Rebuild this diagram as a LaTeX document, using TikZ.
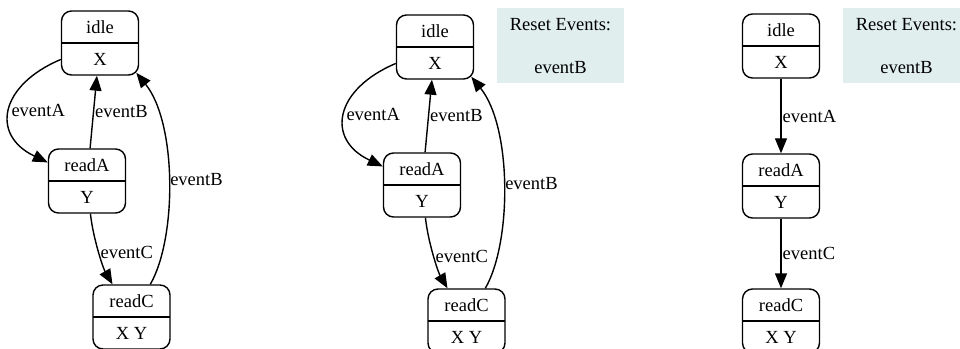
\documentclass[tikz,border=0pt]{standalone}
\usepackage{fontspec}
\setmainfont{Liberation Serif}
\usetikzlibrary{arrows.meta}
\definecolor{resetfill}{RGB}{224,238,238}
\tikzset{
  state/.style={draw, line width=1.4pt, rounded corners=10pt,
    minimum width=77pt, minimum height=64pt, inner sep=0pt,
    path picture={\draw[line width=1.4pt]
      (path picture bounding box.west) -- (path picture bounding box.east);}},
  lbl/.style={font=\fontsize{18.5}{20}\selectfont, inner sep=0pt},
  edge/.style={line width=1.4pt, -{Triangle[length=15pt,width=12pt]}},
  elabel/.style={lbl, anchor=west, inner sep=1pt},
  resetbox/.style={fill=resetfill, minimum width=127pt, minimum height=75pt, inner sep=0pt},
}
% a state: rounded box split in two, name on top, outputs below
\newcommand\statenode[4]{%
  \node[state] (#1) at (#2) {};
  \node[lbl] (#1-top) at ([yshift=16pt]#1.center) {#3};
  \node[lbl] (#1-bot) at ([yshift=-16pt]#1.center) {#4};
}
% a shaded box listing the reset events
\newcommand\resetnode[2]{%
  \node[resetbox] (#1) at (#2) {};
  \node[lbl] (#1-title) at ([yshift=21pt]#1.center) {Reset Events:};
  \node[lbl] (#1-ev) at ([yshift=-22pt]#1.center) {eventB};
}
\begin{document}
\begin{tikzpicture}[x=1pt,y=1pt]
\useasboundingbox (0,0) rectangle (960,348);
\clip (0,0) rectangle (960,348);
\fill[white] (0,0) rectangle (960,348);

% machine with full transitions
\statenode{idle1}{100,305}{idle}{X}
\statenode{readA1}{87,167}{readA}{Y}
\statenode{readC1}{131.5,31}{readC}{X Y}
\draw[edge] (idle1) .. controls (0,263) and (-10,213) .. (readA1)
  node[elabel,pos=0.5] {eventA};
\draw[edge] (readA1) -- (idle1) node[elabel,pos=0.5] {eventB};
\draw[edge] (readA1) .. controls (93,110) and (103,80) .. (readC1)
  node[elabel,pos=0.5] {eventC};
\draw[edge] (readC1) .. controls (177,110) and (177,225) ..
  ([shift={(-2.9pt,2.9pt)}]idle1.south east)
  node[elabel,pos=0.5] {eventB};

% same machine, with reset events listed
\begin{scope}[shift={(335,-4)}]
\statenode{idle2}{100,305}{idle}{X}
\statenode{readA2}{87,167}{readA}{Y}
\statenode{readC2}{131.5,31}{readC}{X Y}
\draw[edge] (idle2) .. controls (0,263) and (-10,213) .. (readA2)
  node[elabel,pos=0.5] {eventA};
\draw[edge] (readA2) -- (idle2) node[elabel,pos=0.5] {eventB};
\draw[edge] (readA2) .. controls (93,110) and (103,80) .. (readC2)
  node[elabel,pos=0.5] {eventC};
\draw[edge] (readC2) .. controls (177,110) and (177,225) ..
  ([shift={(-2.9pt,2.9pt)}]idle2.south east)
  node[elabel,pos=0.5] {eventB};
\end{scope}
\resetnode{reset2}{560.5,302.5}

% reset transitions removed
\statenode{idle3}{781,302}{idle}{X}
\statenode{readA3}{781,162}{readA}{Y}
\statenode{readC3}{781,27}{readC}{X Y}
\draw[edge] (idle3) -- (readA3) node[elabel,pos=0.5] {eventA};
\draw[edge] (readA3) -- (readC3) node[elabel,pos=0.5] {eventC};
\resetnode{reset3}{906.5,302.5}
\end{tikzpicture}
\end{document}
